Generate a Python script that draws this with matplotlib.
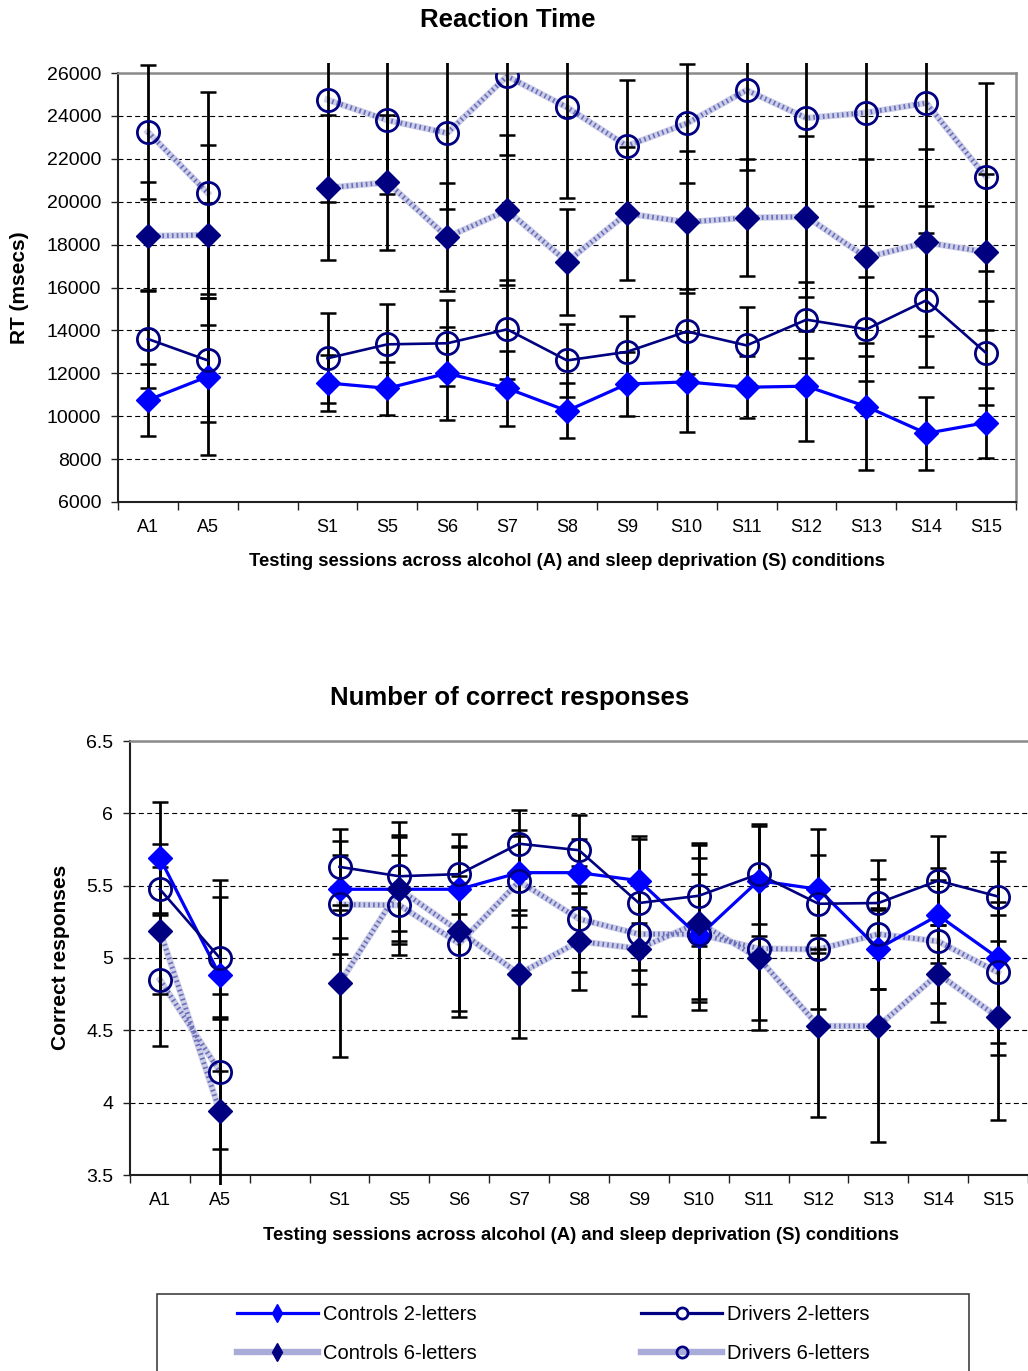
import numpy as np
import matplotlib
matplotlib.use("Agg")
import matplotlib.pyplot as plt
from matplotlib.lines import Line2D
from matplotlib.patches import Rectangle
from matplotlib.ticker import FixedLocator, FormatStrFormatter

plt.rcParams['font.family'] = ['Liberation Sans', 'DejaVu Sans']

# ---------------- data ----------------
categories = ['A1', 'A5', '', 'S1', 'S5', 'S6', 'S7', 'S8', 'S9', 'S10',
              'S11', 'S12', 'S13', 'S14', 'S15']

series_names = ['Controls 2-letters', 'Drivers 2-letters',
                'Controls 6-letters', 'Drivers 6-letters']

# Reaction time (msecs)
rt_ctrl2 = [10750, 11850, None, 11550, 11300, 12000, 11300, 10250, 11500, 11600, 11350, 11400, 10450, 9200, 9700]
rt_ctrl2_err = [1690, 3660, None, 1300, 1250, 2180, 1740, 1280, 1490, 2320, 1450, 2560, 2960, 1710, 1630]
rt_drv2 = [13600, 12600, None, 12700, 13350, 13400, 14050, 12600, 13000, 13950, 13300, 14500, 14050, 15400, 12950]
rt_drv2_err = [2290, 2890, None, 2090, 1880, 2010, 2300, 1700, 1670, 1960, 1770, 1770, 2420, 3120, 2430]
rt_ctrl6 = [18400, 18450, None, 20650, 20900, 18350, 19600, 17200, 19450, 19050, 19250, 19300, 17400, 18100, 17650]
rt_ctrl6_err = [2540, 4190, None, 3380, 3160, 2500, 3500, 2480, 3100, 3310, 2720, 3760, 4600, 4380, 3630]
rt_drv6 = [23250, 20400, None, 24750, 23800, 23200, 25850, 24400, 22600, 23650, 25200, 23900, 24150, 24600, 21150]
rt_drv6_err = [3130, 4720, None, 4760, 3460, 3520, 3650, 4220, 3070, 2790, 3700, 4600, 4340, 4790, 4400]

# Number of correct responses
cr_ctrl2 = [5.69, 4.88, None, 5.475, 5.475, 5.475, 5.59, 5.59, 5.535, 5.15, 5.535, 5.475, 5.065, 5.295, 5.0]
cr_ctrl2_err = [0.39, 0.66, None, 0.335, 0.375, 0.29, 0.295, 0.235, 0.29, 0.43, 0.38, 0.415, 0.28, 0.33, 0.67]
cr_drv2 = [5.475, 5.0, None, 5.63, 5.565, 5.58, 5.79, 5.745, 5.38, 5.43, 5.58, 5.375, 5.38, 5.535, 5.425]
cr_drv2_err = [0.31, 0.425, None, 0.265, 0.375, 0.275, 0.235, 0.245, 0.46, 0.35, 0.345, 0.34, 0.30, 0.305, 0.305]
cr_ctrl6 = [5.19, 3.94, None, 4.825, 5.475, 5.185, 4.89, 5.115, 5.065, 5.245, 5.0, 4.53, 4.53, 4.89, 4.59]
cr_ctrl6_err = [0.44, 0.655, None, 0.51, 0.36, 0.59, 0.445, 0.335, 0.465, 0.55, 0.495, 0.63, 0.805, 0.335, 0.71]
cr_drv6 = [4.85, 4.215, None, 5.37, 5.365, 5.10, 5.53, 5.27, 5.165, 5.165, 5.065, 5.06, 5.165, 5.115, 4.90]
cr_drv6_err = [0.46, 0.535, None, 0.34, 0.345, 0.465, 0.315, 0.365, 0.345, 0.525, 0.495, 0.415, 0.38, 0.425, 0.49]

rt_yticks = [6000, 8000, 10000, 12000, 14000, 16000, 18000, 20000, 22000, 24000, 26000]
cr_yticks = [3.5, 4, 4.5, 5, 5.5, 6, 6.5]

# ---------------- styles ----------------
BLUE = '#0000FF'
NAVY = '#000080'
HATCH_BG = '#CDCFE8'
HATCH_FG = '#6A6EB8'

styles = [
    dict(color=BLUE, lw=2.3, hatch=False, marker='D', mfc=BLUE, mec=BLUE, ms=12, mew=1),
    dict(color=NAVY, lw=1.9, hatch=False, marker='o', mfc='none', mec=NAVY, ms=16, mew=2.0),
    dict(color=HATCH_BG, lw=4.6, hatch=True, marker='D', mfc=NAVY, mec=NAVY, ms=12, mew=1),
    dict(color=HATCH_BG, lw=4.6, hatch=True, marker='o', mfc='none', mec=NAVY, ms=16, mew=2.0),
]

W, H = 1028, 1371
fig = plt.figure(figsize=(W / 100, H / 100), dpi=100)

ax1 = fig.add_axes([118 / W, 1 - 502 / H, 898 / W, 429 / H])
ax2 = fig.add_axes([130 / W, 1 - 1175 / H, 898 / W, 434 / H])

x = np.arange(len(categories))


def draw(ax, means, errs, yticks, fmt):
    clip = Rectangle((0, -0.024), 1, 1.048, transform=ax.transAxes)
    for (m, e), st in zip(zip(means, errs), styles):
        m = np.array(m, dtype=float)
        e = np.array(e, dtype=float)
        cont = ax.errorbar(x, m, yerr=e, fmt='none', ecolor='black',
                           elinewidth=2.0, capsize=5.5, capthick=1.8, zorder=2.6)
        for cl in cont[1]:
            cl.set_clip_path(clip)
        for bl in cont[2]:
            bl.set_clip_path(clip)
        if st['hatch']:
            ax.plot(x, m, color=st['color'], lw=st['lw'], zorder=2.3,
                    solid_joinstyle='round')
            ax.plot(x, m, color=HATCH_FG, lw=st['lw'] * 0.75, zorder=2.4,
                    linestyle=(0, (0.35, 0.65)), dash_capstyle='butt')
        else:
            ax.plot(x, m, color=st['color'], lw=st['lw'], zorder=3,
                    solid_joinstyle='round')
        ax.plot(x, m, ls='none', marker=st['marker'], mfc=st['mfc'],
                mec=st['mec'], ms=st['ms'], mew=st['mew'], zorder=4)

    ax.set_xlim(-0.5, len(categories) - 0.5)
    ax.set_ylim(yticks[0], yticks[-1])
    ax.xaxis.set_major_locator(FixedLocator(np.arange(-0.5, len(categories) + 0.5, 1)))
    ax.xaxis.set_major_formatter(plt.NullFormatter())
    ax.xaxis.set_minor_locator(FixedLocator(x))
    ax.set_xticklabels(categories, minor=True)
    ax.tick_params(axis='x', which='major', direction='out', length=6, width=1, color='#202020')
    ax.tick_params(axis='x', which='minor', length=0, pad=12, labelsize=13)
    ax.set_yticks(yticks)
    ax.yaxis.set_major_formatter(FormatStrFormatter(fmt))
    ax.tick_params(axis='y', direction='out', length=5, width=1, color='#202020',
                   pad=7, labelsize=14)
    ax.yaxis.grid(True, linestyle=(0, (4.5, 3.0)), color='black', lw=0.8)
    ax.set_axisbelow(True)
    for s in ['left', 'bottom']:
        ax.spines[s].set_color('#202020')
        ax.spines[s].set_linewidth(1.5)
    ax.spines['top'].set_color('#8a8a8a')
    ax.spines['top'].set_linewidth(1.8)
    ax.spines['right'].set_color('#8a8a8a')
    ax.spines['right'].set_linewidth(1.8)


draw(ax1, [rt_ctrl2, rt_drv2, rt_ctrl6, rt_drv6],
     [rt_ctrl2_err, rt_drv2_err, rt_ctrl6_err, rt_drv6_err], rt_yticks, '%d')
draw(ax2, [cr_ctrl2, cr_drv2, cr_ctrl6, cr_drv6],
     [cr_ctrl2_err, cr_drv2_err, cr_ctrl6_err, cr_drv6_err], cr_yticks, '%g')
ax2.spines['right'].set_visible(False)

xlab = 'Testing sessions across alcohol (A) and sleep deprivation (S) conditions'
ax1.set_xlabel(xlab, fontsize=13.3, fontweight='bold', va='center')
ax1.xaxis.set_label_coords((567 - 118) / 898, (502 - 562) / 429)
ax2.set_xlabel(xlab, fontsize=13.3, fontweight='bold', va='center')
ax2.xaxis.set_label_coords((581 - 130) / 898, (1175 - 1235) / 434)

ax1.set_ylabel('RT (msecs)', fontsize=15, fontweight='bold', va='center')
ax1.yaxis.set_label_coords((20 - 118) / 898, (502 - 288) / 429)
ax2.set_ylabel('Correct responses', fontsize=15, fontweight='bold', va='center')
ax2.yaxis.set_label_coords((60 - 130) / 898, (1175 - 957) / 434)

fig.text(508 / W, 1 - 20 / H, 'Reaction Time', fontsize=18.5, fontweight='bold',
         ha='center', va='center')
fig.text(510 / W, 1 - 698 / H, 'Number of correct responses', fontsize=18.5,
         fontweight='bold', ha='center', va='center')

# legend
handles = []
leg_styles = [
    dict(color=BLUE, lw=2.3, marker='d', mfc=BLUE, mec=BLUE, ms=9, mew=1),
    dict(color=NAVY, lw=2.3, marker='o', mfc='white', mec=NAVY, ms=8, mew=2),
    dict(color='#A9ACD8', lw=4.6, marker='d', mfc=NAVY, mec=NAVY, ms=9, mew=1),
    dict(color='#A9ACD8', lw=4.6, marker='o', mfc='none', mec=NAVY, ms=8, mew=2),
]
for name, st in zip(series_names, leg_styles):
    handles.append(Line2D([], [], label=name, **st))
order = [0, 2, 1, 3]
leg = fig.legend([handles[i] for i in order], [series_names[i] for i in order],
                 ncol=2, loc='center left',
                 bbox_to_anchor=(237 / W, 1 - 1334 / H),
                 frameon=False, fontsize=14.5, handlelength=4.0,
                 handletextpad=0.25, columnspacing=8.2, labelspacing=0.95,
                 borderpad=0, borderaxespad=0)
fig.add_artist(Rectangle((157 / W, 1 - 1420 / H), (969 - 157) / W, (1420 - 1294) / H,
                         transform=fig.transFigure, fill=False, ec='#303030', lw=1.1))

fig.savefig('out.png', dpi=100)
